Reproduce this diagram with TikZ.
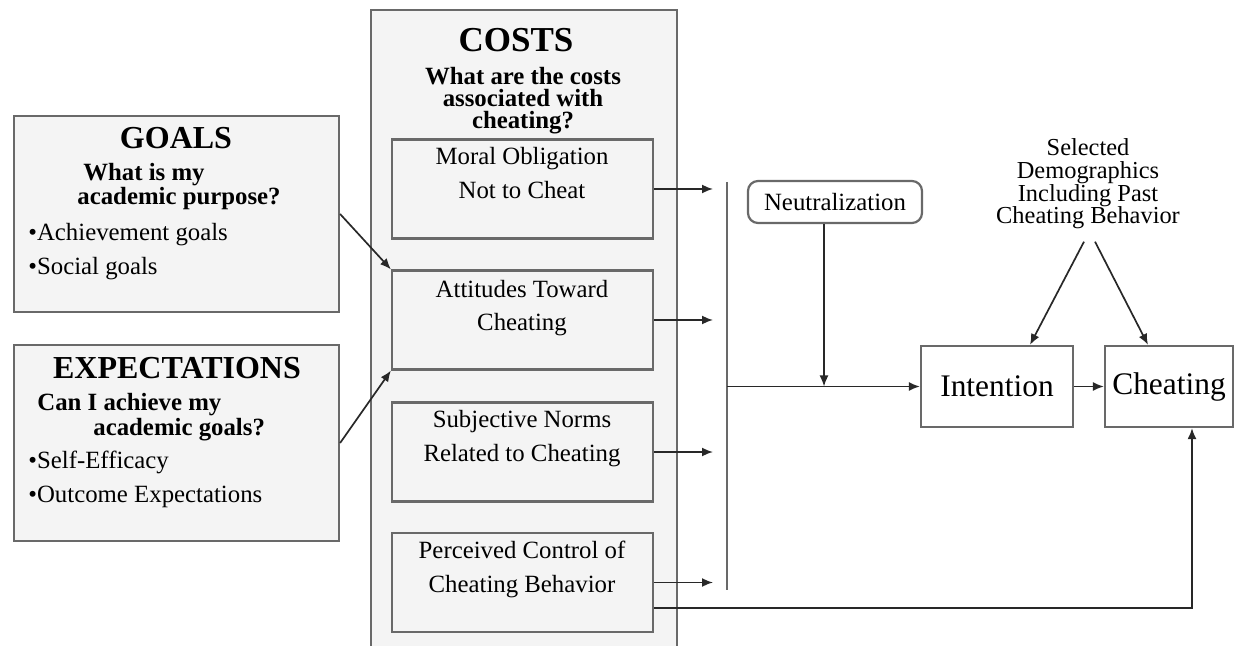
\documentclass[tikz,border=0pt]{standalone}
\usepackage{fontspec}
\setmainfont{Liberation Serif}
\usetikzlibrary{positioning,arrows.meta}
\definecolor{boxline}{RGB}{105,105,105}
\definecolor{boxfill}{RGB}{244,244,244}
\definecolor{arrowline}{RGB}{40,40,40}
\newcommand{\txtfont}{\fontsize{12.4}{17}\selectfont}
\newcommand{\askfont}{\fontsize{12.4}{11}\selectfont\bfseries}
\newcommand{\hdfont}{\fontsize{16}{18}\selectfont\bfseries}
\newcommand{\bigfont}{\fontsize{15.7}{18}\selectfont}

\begin{document}
\begin{tikzpicture}[x=0.5pt,y=-0.5pt]
		\tikzstyle{panel}=[draw=boxline, line width=1.1pt, fill=boxfill]
		\tikzstyle{sidebox}=[panel, minimum width=162.5pt, minimum height=98pt]
		\tikzstyle{costbox}=[panel, minimum width=130.5pt, minimum height=49.5pt]
		\tikzstyle{plainbox}=[draw=boxline, line width=1.1pt, fill=white, minimum height=40.5pt, font=\bigfont]
		\tikzstyle{txt}=[inner sep=0pt, align=center, font=\txtfont]
		\tikzstyle{arr}=[draw=arrowline, line width=0.85pt, -{Latex[length=5.5pt,width=4.5pt]}]
		\useasboundingbox (0,0) rectangle (1241,646);
		\clip (0,0) rectangle (1241,646);
		% left panels
		\node[sidebox] (goals)  at (176.5,214) {};
		\node[sidebox] (expect) at (176.5,443) {};
		\node[inner sep=0pt, font=\hdfont, anchor=base] (goalshd) at (176,148.5) {GOALS};
		\node[inner sep=0pt, align=left, font=\askfont, anchor=base west] (goalsask) at (77,205) {\hspace*{3pt}What is my\\academic purpose?};
		\node[inner sep=0pt, align=left, font=\txtfont, anchor=base west] (goalslist) at (28,275) {•Achievement goals\\•Social goals};
		\node[inner sep=0pt, font=\hdfont, anchor=base] (expecthd) at (177,378.5) {EXPECTATIONS};
		\node[inner sep=0pt, align=left, font=\askfont, anchor=base west] (expectask) at (37,435) {Can I achieve my\\\hspace*{28pt}academic goals?};
		\node[inner sep=0pt, align=left, font=\txtfont, anchor=base west] (expectlist) at (28,502) {•Self-Efficacy\\•Outcome Expectations};
		% costs panel, runs off the bottom edge
		\node[panel, minimum width=153pt, minimum height=325pt] (costs) at (524,335) {};
		\node[inner sep=0pt, font=\fontsize{17.5}{20}\selectfont\bfseries, anchor=base] (costshd) at (516,51.5) {COSTS};
		\node[inner sep=0pt, align=center, font=\askfont, anchor=base] (costsask) at (523,129) {What are the costs\\associated with\\cheating?};
		\node[costbox] (moral)    at (522.5,189) {};
		\node[costbox] (attitude) at (522.5,320) {};
		\node[costbox] (norms)    at (522.5,452) {};
		\node[costbox] (control)  at (522.5,582.5) {};
		\node[txt, anchor=base] (moralt)    at (522,199) {Moral Obligation\\Not to Cheat};
		\node[txt, anchor=base] (attitudet) at (522,331) {Attitudes Toward\\Cheating};
		\node[txt, anchor=base] (normst)    at (522,461) {Subjective Norms\\Related to Cheating};
		\node[txt, anchor=base] (controlt)  at (522,592) {Perceived Control of\\Cheating Behavior};
		% collecting bar
		\coordinate (bartop) at (727,182);
		\coordinate (barbot) at (727,590);
		\coordinate (tip) at (713,0);
		\draw[draw=boxline, line width=1.1pt] (bartop) -- (barbot);
		% right part
		\node[draw=boxline, line width=1.1pt, rounded corners=5pt, minimum width=87pt, minimum height=21pt, font=\txtfont] (neutral) at (835,202) {Neutralization};
		\node[plainbox, minimum width=76pt] (intention) at (997,386.5) {Intention};
		\node[plainbox, minimum width=64pt] (cheat) at (1169,386.5) {Cheating};
		\node[inner sep=0pt, align=center, font=\fontsize{12.2}{11.4}\selectfont, anchor=base] (demo) at (1088,224) {Selected\\Demographics\\Including Past\\Cheating Behavior};
		% arrows
		\draw[arr] (goals.east) -- (attitude.north west);
		\draw[arr] (expect.east) -- (attitude.south west);
		\draw[arr] (moral.east) -- (moral.east -| tip);
		\draw[arr] (attitude.east) -- (attitude.east -| tip);
		\draw[arr] (norms.east) -- (norms.east -| tip);
		\draw[arr] (control.east) -- (control.east -| tip);
		\draw[arr] (bartop |- intention) -- (intention);
		\draw[arr] ([xshift=-5.5pt]neutral.south) -- ([xshift=-5.5pt]neutral.south |- intention);
		\draw[arr] (intention) -- (cheat);
		\draw[arr] ([xshift=-2pt,yshift=-6pt]demo.south) -- ([xshift=16.5pt]intention.north);
		\draw[arr] ([xshift=3.5pt,yshift=-6pt]demo.south) -- ([xshift=-10.5pt]cheat.north);
		\draw[arr] ([yshift=12.5pt]control.south east) -| ([xshift=11.5pt]cheat.south);
\end{tikzpicture}
\end{document}
